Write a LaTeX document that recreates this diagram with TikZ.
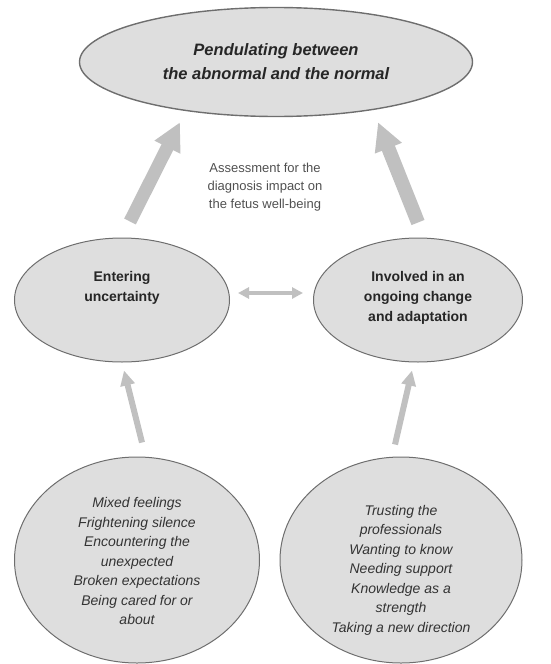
\documentclass[tikz,border=0pt]{standalone}
\usepackage{fontspec}
\setmainfont{Liberation Sans}
\usetikzlibrary{calc,shapes.geometric,arrows.meta}
\definecolor{ovfill}{RGB}{222,222,222}
\definecolor{ovline}{RGB}{110,110,110}
\definecolor{arrgray}{RGB}{192,192,192}
\definecolor{notegray}{RGB}{80,80,80}

\begin{document}
\begin{tikzpicture}[x=1pt,y=-1pt,
  oval/.style={ellipse,draw=ovline,fill=ovfill,line width=1pt,inner sep=0pt},
  headtxt/.style={font=\fontsize{16.5}{24}\selectfont\bfseries\itshape,align=center,text=black!85},
  themetxt/.style={font=\fontsize{14}{20}\selectfont\bfseries,align=center,text=black!85},
  subtxt/.style={font=\fontsize{14}{19.5}\selectfont\itshape,align=center,text=black!80},
  notetxt/.style={font=\fontsize{13}{18}\selectfont,align=center,text=notegray},
  fatarrow/.style={arrgray,line width=13pt,-{Triangle[length=28pt,width=27pt]}},
  thinarrow/.style={arrgray,line width=6pt,-{Triangle[length=15pt,width=14pt]}},
  twoway/.style={arrgray,line width=4.5pt,{Triangle[length=11pt,width=11pt]}-{Triangle[length=11pt,width=11pt]}}]

\useasboundingbox (0,0) rectangle (550,664);

\node[oval,line width=1.4pt,minimum width=393pt,minimum height=109pt] (top) at (276,62) {};
\node[headtxt] (toptext) at (top) {Pendulating between\\the abnormal and the normal};

\node[oval,minimum width=215pt,minimum height=124pt] (midL) at (122,300) {};
\node[themetxt] (midLtext) at ($(midL)+(0,-12)$) {Entering\\uncertainty};
\node[oval,minimum width=209pt,minimum height=124pt] (midR) at (418,300) {};
\node[themetxt] (midRtext) at ($(midR)+(0,-2)$) {Involved in an\\ongoing change\\and adaptation};

\node[oval,minimum width=245pt,minimum height=206pt] (lowL) at (137,560) {};
\node[subtxt] (lowLtext) at ($(lowL)+(0,1)$)
  {Mixed feelings\\Frightening silence\\Encountering the\\unexpected\\Broken expectations\\Being cared for or\\about};
\node[oval,minimum width=242pt,minimum height=206pt] (lowR) at (401,560) {};
\node[subtxt] (lowRtext) at ($(lowR)+(0,10)$)
  {Trusting the\\professionals\\Wanting to know\\Needing support\\Knowledge as a\\strength\\Taking a new direction};

\node[notetxt] (note) at (265,187) {Assessment for the\\diagnosis impact on\\the fetus well-being};

% arrows up to the core category
\draw[fatarrow] ($(midL.north)+(8,-16)$) -- ($(top.south)+(-96,5)$);
\draw[fatarrow,line width=14pt] ($(midR.north)+(0,-15)$) -- ($(top.south)+(102,5)$);
\draw[twoway] ($(midL.east)+(8,-7)$) -- ($(midR.west)+(-10,-7)$);
% arrows up from the subcategories
\draw[thinarrow] ($(lowL.north)+(5,-14)$) -- ($(midL.south)+(2,8)$);
\draw[thinarrow] ($(lowR.north)+(-6,-12)$) -- ($(midR.south)+(-6,8)$);
\end{tikzpicture}
\end{document}
